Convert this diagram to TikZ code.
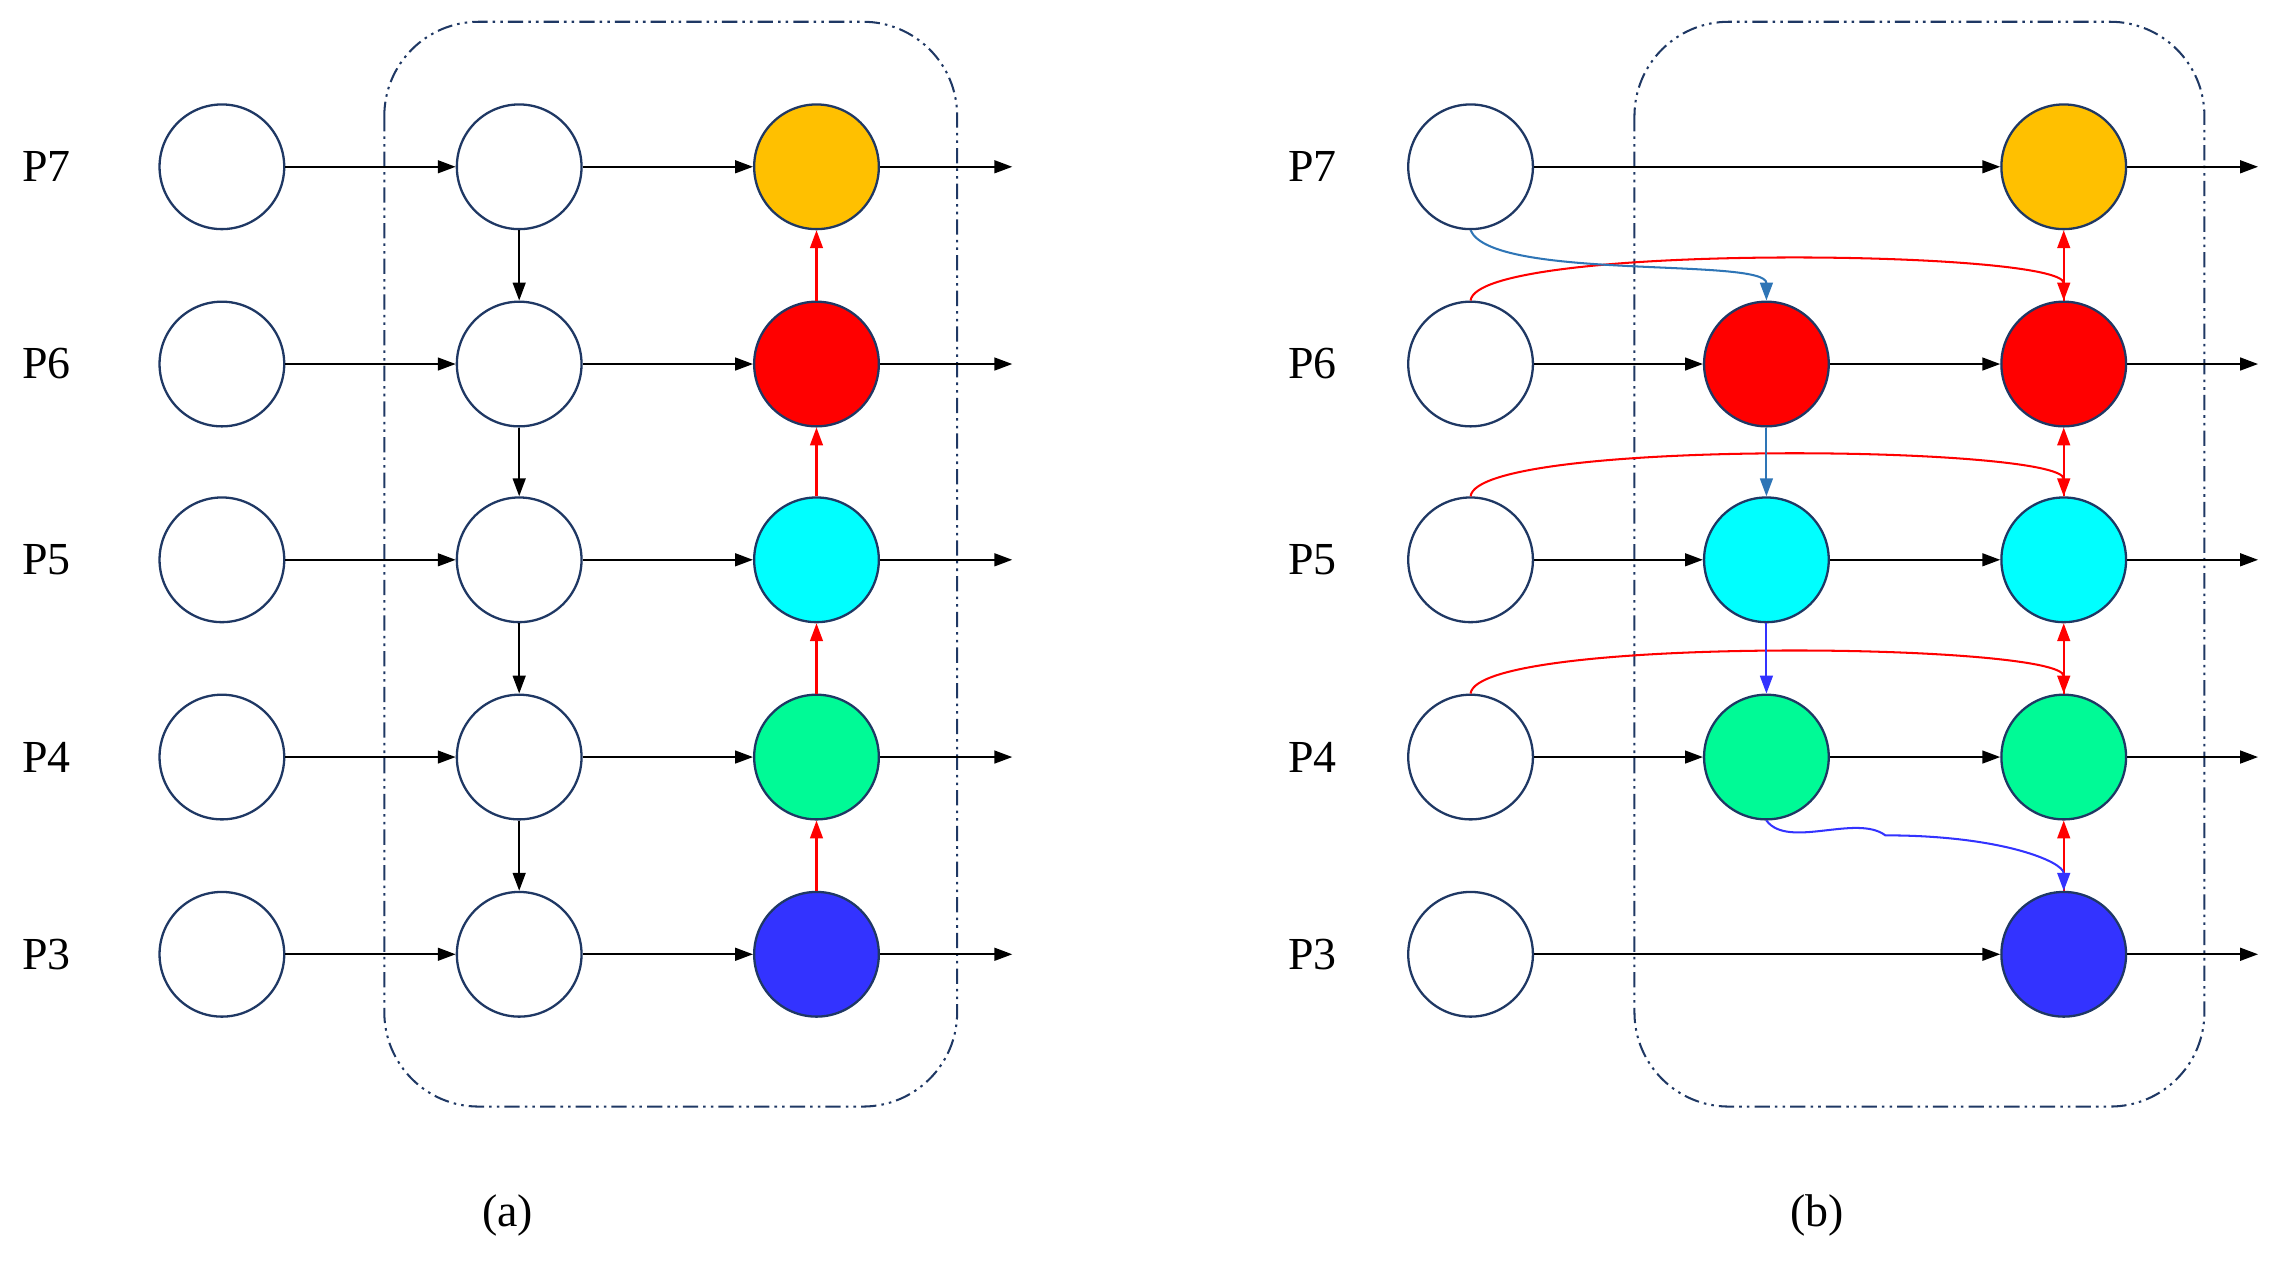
\documentclass[tikz,border=0pt]{standalone}
\usepackage{fontspec}
\setmainfont{Liberation Serif}
\usetikzlibrary{arrows.meta}
\definecolor{navy}{HTML}{1F3864}
\definecolor{cOr}{HTML}{FFC000}
\definecolor{cRe}{HTML}{FF0000}
\definecolor{cCy}{HTML}{00FFFF}
\definecolor{cGr}{HTML}{00FA96}
\definecolor{cBl}{HTML}{3333FF}
\definecolor{sblue}{HTML}{2E75B6}
\begin{document}
\begin{tikzpicture}[x=0.02cm,y=-0.02cm,
  c/.style={circle,draw=navy,line width=0.9pt,minimum size=1.72cm,inner sep=0pt},
  a/.style={-{Triangle[length=7pt,width=5pt]},line width=0.8pt},
  lab/.style={font=\fontsize{18}{20}\selectfont},
  box/.style={draw=navy,line width=0.8pt,dash pattern=on 6pt off 2pt on 1pt off 2pt on 1pt off 2pt,rounded corners=1.3cm}]
\useasboundingbox (0,0) rectangle (1568,869);
% boxes
\draw[box] (265,15) rectangle (660,763);
\draw[box] (1127,15) rectangle (1520,763);
% (a)
\foreach \n/\y/\f in {7/115/cOr,6/251/cRe,5/386/cCy,4/522/cGr,3/658/cBl}{
  \node[lab] (La\n) at (32,\y) {P\n};
  \node[c] (a1\n) at (153,\y) {};
  \node[c] (a2\n) at (358,\y) {};
  \node[c,fill=\f] (a3\n) at (563,\y) {};
  \coordinate (ae\n) at (698,\y);
  \draw[a] (a1\n) -- (a2\n);
  \draw[a] (a2\n) -- (a3\n);
  \draw[a] (a3\n) -- (ae\n);
}
\foreach \u/\d in {7/6,6/5,5/4,4/3}{
  \draw[a] (a2\u) -- (a2\d);
  \draw[a,cRe] (a3\d) -- (a3\u);
}
\node[lab] (capa) at (350,838) {(a)};
% (b)
\foreach \n/\y/\f in {7/115/cOr,6/251/cRe,5/386/cCy,4/522/cGr,3/658/cBl}{
  \node[lab] (Lb\n) at (905,\y) {P\n};
  \node[c] (b1\n) at (1014,\y) {};
  \node[c,fill=\f] (b3\n) at (1423,\y) {};
  \coordinate (be\n) at (1557,\y);
  \draw[a] (b3\n) -- (be\n);
}
\foreach \n/\y/\f in {6/251/cRe,5/386/cCy,4/522/cGr}{
  \node[c,fill=\f] (b2\n) at (1218,\y) {};
  \draw[a] (b1\n) -- (b2\n);
  \draw[a] (b2\n) -- (b3\n);
}
\draw[a] (b17) -- (b37);
\draw[a] (b13) -- (b33);
\foreach \u/\d in {7/6,6/5,5/4,4/3}{
  \draw[a,cRe] (b3\d) -- (b3\u);
}
\foreach \n in {6,5,4}{
  \draw[a,cRe] (b1\n.north) .. controls +(5,-40) and +(0,-35) .. (b3\n.north);
}
\draw[a,sblue] (b17.south) .. controls +(15,35) and +(0,-30) .. (b26.north);
\draw[a,sblue] (b26) -- (b25);
\draw[a,cBl] (b25) -- (b24);
\draw[a,cBl] (b24.south) .. controls +(15,20) and +(-20,-15) .. (1300,576) .. controls +(80,0) and +(0,-20) .. (b33.north);
\node[lab] (capb) at (1253,838) {(b)};
\end{tikzpicture}
\end{document}
